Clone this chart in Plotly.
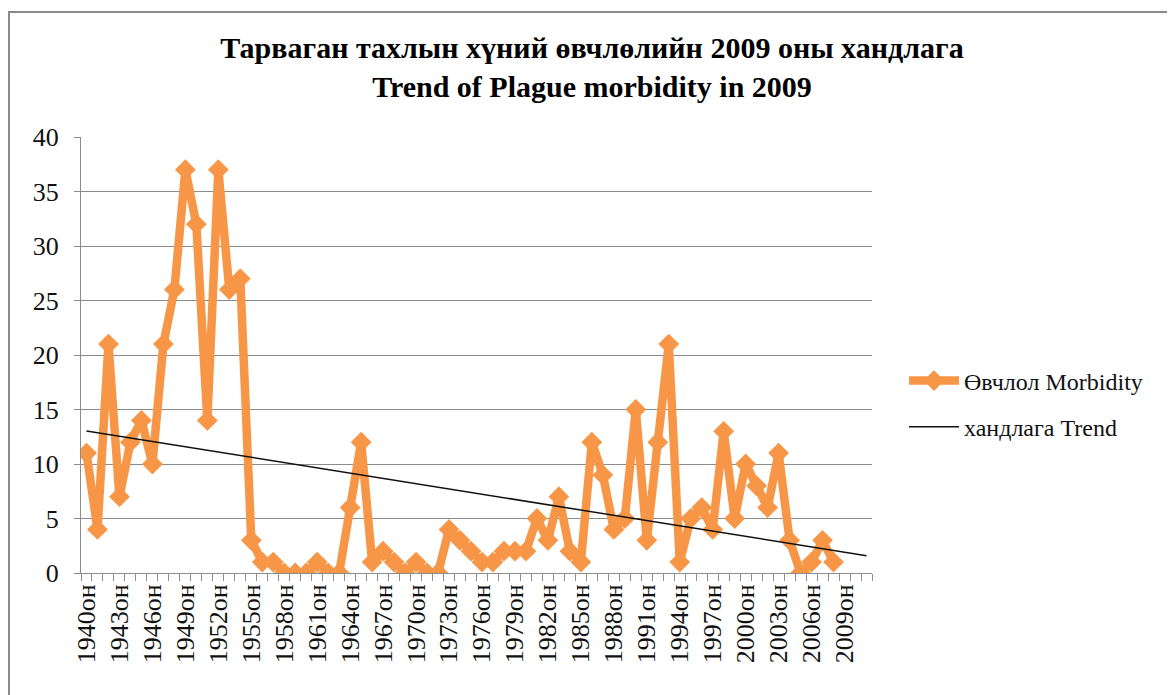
import numpy as np
import plotly.graph_objects as go

# ---- data ----
years = list(range(1940, 2012))            # category axis 1940..2011
data_years = list(range(1940, 2009))       # years with observations
morbidity = [11, 4, 21, 7, 12, 14, 10, 21, 26, 37,
             32, 14, 37, 26, 27, 3, 1, 1, 0, 0,
             0, 1, 0, 0, 6, 12, 1, 2, 1, 0,
             1, 0, 0, 4, 3, 2, 1, 1, 2, 2,
             2, 5, 3, 7, 2, 1, 12, 9, 4, 5,
             15, 3, 12, 21, 1, 5, 6, 4, 13, 5,
             10, 8, 6, 11, 3, 0, 1, 3, 1]
tick_years = list(range(1940, 2010, 3))
tick_labels = [f"{y}он" for y in tick_years]
forecast_periods = 3

title_mn = "Тарваган тахлын хүний өвчлөлийн 2009 оны хандлага"
title_en = "Trend of Plague morbidity in 2009"
name_morb = "Өвчлол Morbidity"
name_trend = "хандлага Trend"

# ---- derived ----
x_idx = np.array([y - years[0] for y in data_years])
slope, intercept = np.polyfit(x_idx, np.array(morbidity, dtype=float), 1)
trend_x = np.array([0, x_idx[-1] + forecast_periods])
trend_y = slope * trend_x + intercept

ORANGE = "#F79646"
GRID = "#8c8c8c"
FONT = "'Liberation Serif', 'Times New Roman', 'DejaVu Serif', serif"

OFF = 8  # page body offset
W, H = 1175 - OFF, 695 - OFF
L, T = 81 - OFF, 137 - OFF
R = W - (872 - OFF)
B = H - (573 - OFF)
pw, ph = W - L - R, H - T - B

fig = go.Figure()
fig.add_trace(go.Scatter(
    x=x_idx, y=morbidity, mode="lines+markers", name=name_morb,
    line=dict(color=ORANGE, width=8.5),
    marker=dict(symbol="diamond", size=16, color=ORANGE),
    legendgroup="a",
))
fig.add_trace(go.Scatter(
    x=trend_x, y=trend_y, mode="lines", name=name_trend,
    line=dict(color="#111111", width=1.5),
    legendgroup="b",
))

fig.update_layout(
    width=W, height=H,
    margin=dict(l=L, r=R, t=T, b=B),
    paper_bgcolor="white", plot_bgcolor="white",
    font=dict(family=FONT, color="#111111"),
    title=dict(
        text=f"<b>{title_mn}<br>{title_en}</b>",
        x=(592 - OFF - L) / pw, xref="paper", xanchor="center",
        y=1 - 50 / H, yanchor="top",
        font=dict(size=30, family=FONT, color="#000000"),
    ),
    showlegend=True,
    legend=dict(
        x=(904 - OFF - L) / pw, xanchor="left",
        y=(573 - 404) / ph, yanchor="middle",
        font=dict(size=24, family=FONT, color="#111111"),
        tracegroupgap=12, bgcolor="rgba(0,0,0,0)",
        itemwidth=50,
    ),
    xaxis=dict(
        range=[-0.5, len(years) - 0.5],
        tickmode="array",
        tickvals=[y - years[0] for y in tick_years],
        ticktext=tick_labels,
        tickangle=-90,
        ticks="",
        showgrid=False, zeroline=False,
        showline=True, linecolor=GRID, linewidth=1,
        tickfont=dict(size=26, family=FONT, color="#111111"),
        minor=dict(
            tickmode="array",
            tickvals=[i - 0.5 for i in range(len(years) + 1)],
            ticks="outside", ticklen=7, tickcolor=GRID, showgrid=False,
        ),
    ),
    yaxis=dict(
        range=[0, 40], dtick=5,
        showgrid=True, gridcolor=GRID, gridwidth=1,
        zeroline=False,
        showline=True, linecolor=GRID, linewidth=1,
        ticks="outside", ticklen=6, tickcolor=GRID,
        ticklabelstandoff=10,
        tickfont=dict(size=26, family=FONT, color="#111111"),
    ),
    shapes=[dict(
        type="rect", xref="paper", yref="paper",
        x0=(1 - L) / pw, x1=(W + 20 - L) / pw,
        y0=-(H + 20 - (T + ph)) / ph, y1=(T + ph - (12 - OFF)) / ph,
        line=dict(color="#8a8a8a", width=2), fillcolor="rgba(0,0,0,0)",
        layer="below",
    )],
)

fig.write_html("out.html")
